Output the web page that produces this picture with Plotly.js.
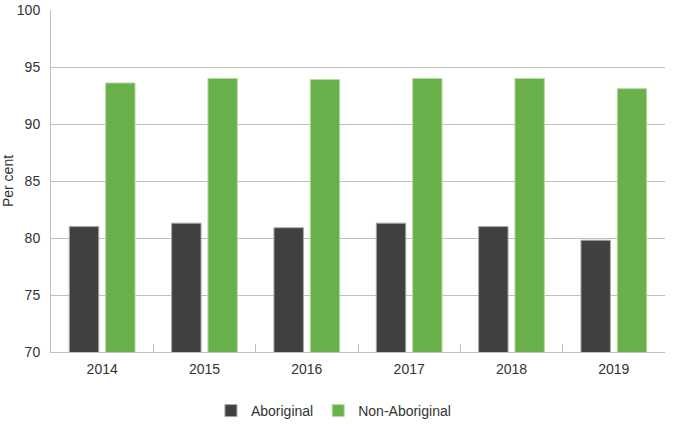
<!DOCTYPE html>
<html><head><meta charset="utf-8">
<script src="https://cdn.plot.ly/plotly-3.0.1.min.js"></script>
<style>body{margin:0;padding:0;}#chart{width:675px;height:425px;}</style>
</head><body><div id="chart"></div>
<script>
const years = ["2014","2015","2016","2017","2018","2019"];
const aboriginal = [81.0, 81.3, 80.9, 81.3, 81.0, 79.8];
const nonAboriginal = [93.6, 94.0, 93.9, 94.0, 94.0, 93.1];

const data = [
  {type:"bar", name:"Aboriginal", x:years, y:aboriginal,
   marker:{color:"#404040", line:{color:"#a6a6a6", width:1}}},
  {type:"bar", name:"Non-Aboriginal", x:years, y:nonAboriginal,
   marker:{color:"#6ab04a", line:{color:"#b5dca6", width:1}}}
];
const layout = {
  width:675, height:425,
  margin:{l:51, r:10, t:10, b:73, autoexpand:false},
  font:{family:"Liberation Sans, Arial, sans-serif", size:14, color:"#333333"},
  barmode:"group", bargap:0.29, bargroupgap:0.19,
  plot_bgcolor:"#ffffff", paper_bgcolor:"#ffffff",
  xaxis:{type:"category", showline:true, linecolor:"#bfbfbf", linewidth:1,
    ticks:"inside", tickson:"boundaries", ticklen:8, tickcolor:"#bfbfbf",
    showgrid:false, tickfont:{size:14, color:"#333333"}, ticklabelstandoff:4, fixedrange:true},
  yaxis:{range:[70,100], dtick:5, showline:true, linecolor:"#bfbfbf", linewidth:1,
    showgrid:true, gridcolor:"#bfbfbf", gridwidth:1, zeroline:false,
    ticks:"", ticklabelstandoff:7, tickfont:{size:14, color:"#333333"},
    title:{text:"Per cent", font:{size:14, color:"#333333"}, standoff:6}},
  legend:{orientation:"h", x:0.46, xanchor:"center", y:-0.1725, yanchor:"middle",
    font:{size:14, color:"#333333"}, traceorder:"normal", itemwidth:30},
  showlegend:true
};
Plotly.newPlot("chart", data, layout, {displayModeBar:false, staticPlot:true});
</script></body></html>
